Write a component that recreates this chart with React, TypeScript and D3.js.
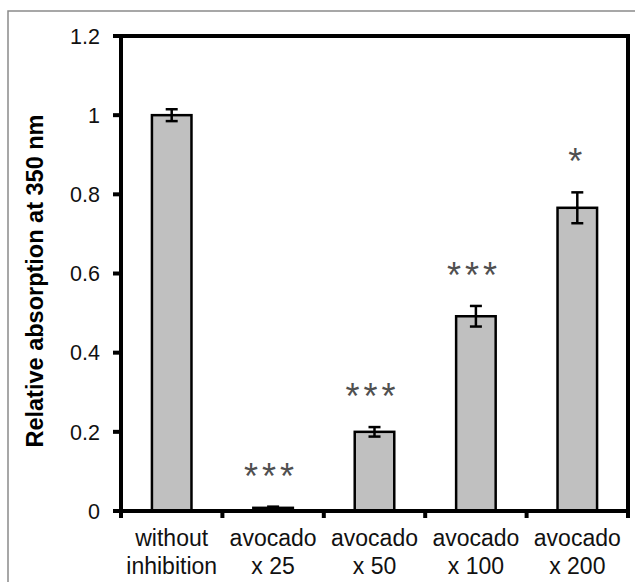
import * as d3 from 'd3';
import React, { useEffect, useRef } from 'react';

const categories = ["without inhibition", "avocado x 25", "avocado x 50", "avocado x 100", "avocado x 200"];
const labelLines = [["without", "inhibition"], ["avocado", "x 25"], ["avocado", "x 50"], ["avocado", "x 100"], ["avocado", "x 200"]];
const values = [1.0, 0.008, 0.2, 0.492, 0.766];
const errors = [0.015, 0.003, 0.012, 0.026, 0.039];
const significance = ["", "***", "***", "***", "*"];
const yTicks = [0, 0.2, 0.4, 0.6, 0.8, 1, 1.2];
const yTitle = "Relative absorption at 350 nm";

const App: React.FC = () => {
  const svgRef = useRef<SVGSVGElement>(null);

  useEffect(() => {
    if (!svgRef.current) { return; }
    const svg = d3.select(svgRef.current);
    svg.selectAll("*").remove();

    const width = 635;
    const height = 582;
    const margin = { top: 36, right: 7, bottom: 71, left: 121 };
    const plotW = width - margin.left - margin.right;
    const plotH = height - margin.top - margin.bottom;
    const font = "Arial, 'Liberation Sans', sans-serif";

    // outer gray frame
    svg.append("path")
      .attr("d", `M8,${height}V11H${width}`)
      .attr("fill", "none")
      .attr("stroke", "#8a8a8a")
      .attr("stroke-width", 1.5);

    const x = d3.scaleBand<string>()
      .domain(categories)
      .range([0, plotW])
      .paddingInner(0)
      .paddingOuter(0);

    const y = d3.scaleLinear()
      .domain([0, 1.2])
      .range([plotH, 0]);

    const chart = svg.append("g")
      .attr("transform", `translate(${margin.left},${margin.top})`);

    const barW = x.bandwidth() * 0.39;

    // bars
    chart.selectAll(".bar")
      .data(values)
      .enter().append("rect")
      .attr("class", "bar")
      .attr("x", (_, i) => x(categories[i])! + x.bandwidth() / 2 - barW / 2)
      .attr("y", v => y(v))
      .attr("width", barW)
      .attr("height", v => plotH - y(v))
      .attr("fill", "#c0c0c0")
      .attr("stroke", "#000")
      .attr("stroke-width", 2.5);

    // error bars + significance stars
    const cap = 6;
    values.forEach((v, i) => {
      const cx = x(categories[i])! + x.bandwidth() / 2;
      const top = y(v + errors[i]);
      const bot = y(v - errors[i]);
      const g = chart.append("g")
        .attr("stroke", "#000")
        .attr("stroke-width", 2.5);
      g.append("line").attr("x1", cx).attr("x2", cx).attr("y1", top).attr("y2", bot);
      g.append("line").attr("x1", cx - cap).attr("x2", cx + cap).attr("y1", top).attr("y2", top);
      g.append("line").attr("x1", cx - cap).attr("x2", cx + cap).attr("y1", bot).attr("y2", bot);

      if (significance[i]) {
        chart.append("text")
          .attr("x", cx - 2)
          .attr("y", top - 40 + 22)
          .attr("text-anchor", "middle")
          .style("font-family", font)
          .style("font-size", "36px")
          .style("letter-spacing", significance[i].length > 1 ? "4px" : "0px")
          .style("fill", "#505050")
          .text(significance[i]);
      }
    });

    // frame box
    chart.append("rect")
      .attr("x", 0)
      .attr("y", 0)
      .attr("width", plotW)
      .attr("height", plotH)
      .attr("fill", "none")
      .attr("stroke", "#000")
      .attr("stroke-width", 4);

    // y ticks
    chart.selectAll(".ytick")
      .data(yTicks)
      .enter().append("line")
      .attr("x1", -8)
      .attr("x2", 0)
      .attr("y1", t => y(t))
      .attr("y2", t => y(t))
      .attr("stroke", "#000")
      .attr("stroke-width", 4);

    chart.selectAll(".ylabel")
      .data(yTicks)
      .enter().append("text")
      .attr("x", -21)
      .attr("y", t => y(t))
      .attr("dy", "0.36em")
      .attr("text-anchor", "end")
      .style("font-family", font)
      .style("font-size", "21.5px")
      .style("fill", "#111")
      .text(t => d3.format("")(t));

    // x ticks at category boundaries
    const boundaries = categories.map(c => x(c)!).concat([plotW]);
    chart.selectAll(".xtick")
      .data(boundaries)
      .enter().append("line")
      .attr("x1", b => b)
      .attr("x2", b => b)
      .attr("y1", plotH)
      .attr("y2", plotH + 7)
      .attr("stroke", "#000")
      .attr("stroke-width", 4);

    // x labels
    labelLines.forEach((lines, i) => {
      const cx = x(categories[i])! + x.bandwidth() / 2;
      lines.forEach((line, j) => {
        chart.append("text")
          .attr("x", cx)
          .attr("y", plotH + 35 + j * 28)
          .attr("text-anchor", "middle")
          .style("font-family", font)
          .style("font-size", "23px")
          .style("fill", "#111")
          .text(line);
      });
    });

    // y title
    svg.append("text")
      .attr("transform", `translate(43,${margin.top + 245}) rotate(-90)`)
      .attr("text-anchor", "middle")
      .style("font-family", font)
      .style("font-size", "23.5px")
      .style("font-weight", "bold")
      .style("fill", "#000")
      .text(yTitle);
  }, []);

  return (
    <svg
      ref={svgRef}
      width={635}
      height={582}
      style={{ position: "absolute", left: 0, top: 0, background: "#fff" }}
    />
  );
};

export default App;
